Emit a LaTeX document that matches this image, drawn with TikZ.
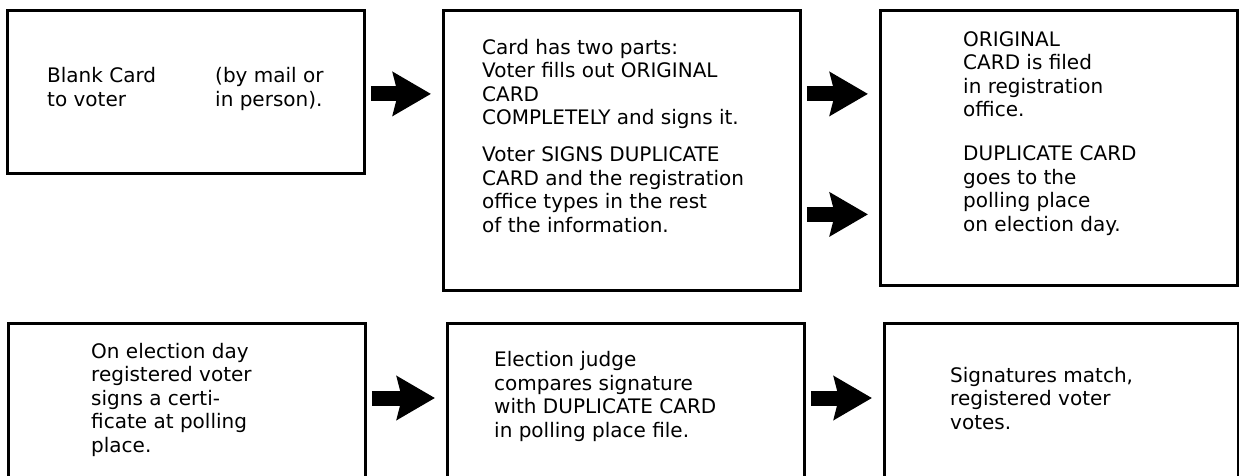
\documentclass[tikz,border=0pt]{standalone}
\usepackage{fontspec}
\setmainfont{DejaVu Sans}
\usepackage{tikz}
\usetikzlibrary{positioning,arrows.meta}

\tikzset{
  card/.style = {draw, line width=2.8pt, rectangle, anchor=north west,
                 minimum width=357pt, inner sep=0pt},
  cardtext/.style = {anchor=base west, align=left, inner sep=0pt,
                     font=\fontsize{20}{23.5}\selectfont},
  fatarrow/.style = {line width=15pt,
                     -{Stealth[length=38pt,width=43pt,inset=5pt]},
                     shorten <=5pt, shorten >=11pt}
}

\begin{document}
\begin{tikzpicture}[x=1pt,y=-1pt]
    \useasboundingbox (0,0) rectangle (1239,475);
    \clip (0,0) rectangle (1239,475);

    % top row
    \node[card, minimum height=163pt] at (6,9) (blank) {};
    \node[card, minimum height=280pt] at (442,9) (parts) {};
    \node[card, minimum height=275pt] at (879,9) (filed) {};

    % texts sit on the baseline of their last line
    \node[cardtext] at (47,106) (blanktxt) {Blank Card\\to voter};
    \node[cardtext] at (215,106) (mailtxt) {(by mail or\\in person).};
    \node[cardtext] at (482,232) (partstxt) {Card has two parts:\\Voter fills out ORIGINAL\\CARD\\COMPLETELY and signs it.\\[13.5pt]
        Voter SIGNS DUPLICATE\\CARD and the registration\\office types in the rest\\of the information.};
    \node[cardtext] at (963,231) (filedtxt) {ORIGINAL\\CARD is filed\\in registration\\office.\\[20.5pt]
        DUPLICATE CARD\\goes to the\\polling place\\on election day.};

    % bottom row
    \node[card, minimum height=170pt] at (7,322) (certificate) {};
    \node[card, minimum height=170pt] at (446,322) (judge) {};
    \node[card, minimum height=170pt, minimum width=354pt] at (883,322) (match) {};

    \node[cardtext] at (91,452) (certificatetxt) {On election day\\registered voter\\signs a certi-\\ficate at polling\\place.};
    \node[cardtext] at (494,437) (judgetxt) {Election judge\\compares signature\\with DUPLICATE CARD\\in polling place file.};
    \node[cardtext] at (950,429) (matchtxt) {Signatures match,\\registered voter\\votes.};

    % arrows
    \draw[fatarrow] ([yshift=-2pt]blank.east) -- ([yshift=-2pt]blank.east -| parts.west);
    \draw[fatarrow] ([yshift=-2pt]blank.east -| parts.east) -- ([yshift=-2pt]blank.east -| filed.west);
    \draw[fatarrow] ([yshift=-64pt]parts.east) -- ([yshift=-64pt]parts.east -| filed.west);
    \draw[fatarrow] ([yshift=-76pt]certificate.north east) -- ([yshift=-76pt]certificate.north east -| judge.west);
    \draw[fatarrow] ([yshift=-76pt]judge.north east) -- ([yshift=-76pt]judge.north east -| match.west);
\end{tikzpicture}
\end{document}
